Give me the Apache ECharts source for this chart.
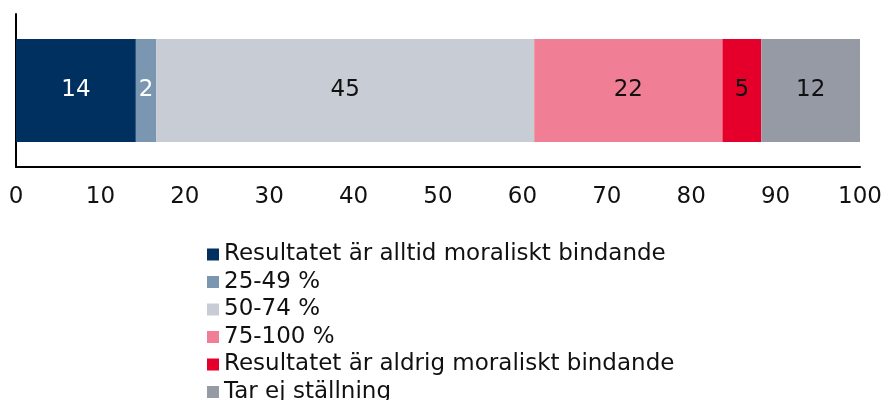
<!DOCTYPE html>
<html>
<head>
<meta charset="utf-8">
<script src="https://cdn.jsdelivr.net/npm/echarts@6/dist/echarts.min.js"></script>
<style>
  html, body { margin: 0; padding: 0; background: #fff; }
  #chart { width: 885px; height: 400px; }
</style>
</head>
<body>
<div id="chart"></div>
<script>
// andelar i procent, läst ur bilden (etiketterna visar avrundat värde)
const categories = ['']
const seriesNames = [
  'Resultatet är alltid moraliskt bindande',
  '25-49 %',
  '50-74 %',
  '75-100 %',
  'Resultatet är aldrig moraliskt bindande',
  'Tar ej ställning'
]
const values = [14.2, 2.4, 44.8, 22.3, 4.6, 11.7]
const colors = ['#00305f', '#7b96b0', '#c8ccd4', '#f07f95', '#e4002b', '#959aa5']
const labelColors = ['#ffffff', '#ffffff', '#111111', '#111111', '#111111', '#111111']
const xTicks = { min: 0, max: 100, interval: 10 }

const fontFamily = 'DejaVu Sans'
const fontSize = 23
const chart = echarts.init(document.getElementById('chart'))

const series = seriesNames.map((name, i) => ({
  name: name,
  type: 'bar',
  stack: 'total',
  barWidth: 103,
  itemStyle: { color: colors[i] },
  label: {
    show: true,
    position: 'inside',
    color: labelColors[i],
    fontFamily: fontFamily,
    fontSize: fontSize,
    formatter: p => Math.round(p.value)
  },
  emphasis: { disabled: true },
  data: [values[i]]
}))

// en legend per rad, så att listan inte bryts i två kolumner
const legends = seriesNames.map((name, i) => ({
  orient: 'vertical',
  left: 202,
  top: 238 + i * 27.5,
  itemWidth: 12,
  itemHeight: 12,
  icon: 'rect',
  textStyle: { fontSize: fontSize, color: '#111', fontFamily: fontFamily },
  data: [name]
}))

chart.setOption({
  animation: false,
  textStyle: { fontFamily: fontFamily },
  grid: { left: 16, right: 25, top: 14, bottom: 233, containLabel: false },
  legend: legends,
  xAxis: {
    type: 'value',
    min: xTicks.min,
    max: xTicks.max,
    interval: xTicks.interval,
    axisLine: { show: true, lineStyle: { color: '#000', width: 2 } },
    axisTick: { show: false },
    splitLine: { show: false },
    axisLabel: { color: '#111', fontSize: fontSize, margin: 19, fontFamily: fontFamily }
  },
  yAxis: {
    type: 'category',
    data: categories,
    axisLine: { show: true, lineStyle: { color: '#000', width: 2 } },
    axisTick: { show: false },
    axisLabel: { show: false }
  },
  series: series
})
</script>
</body>
</html>
